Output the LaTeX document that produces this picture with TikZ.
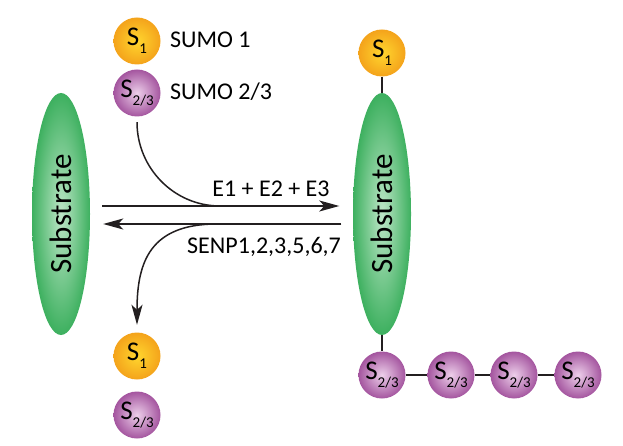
\documentclass[tikz,border=0pt]{standalone}
\usepackage{fontspec}
\setmainfont{Carlito}
\usetikzlibrary{arrows.meta,positioning,shapes.geometric}
\definecolor{sumoyel}{HTML}{FFD62E}
\definecolor{sumoorg}{HTML}{F4A31B}
\definecolor{sumolil}{HTML}{EDCFEA}
\definecolor{sumopur}{HTML}{A4559F}
\definecolor{subpale}{HTML}{BDE6C7}
\definecolor{subgreen}{HTML}{3DB05F}
\definecolor{linkgray}{HTML}{231F20}
\newcommand{\sumolbl}[1]{S\raisebox{-0.3em}{\fontsize{15}{15}\selectfont #1}}

\begin{document}
\begin{tikzpicture}[
    x=1pt, y=-1pt,
    font=\fontsize{24}{26}\selectfont,
    sone/.style={circle, minimum size=47pt, inner sep=0pt, inner color=sumoyel, outer color=sumoorg, font=\fontsize{27}{27}\selectfont},
    stwo/.style={circle, minimum size=47pt, inner sep=0pt, inner color=sumolil, outer color=sumopur, font=\fontsize{27}{27}\selectfont},
    substrate/.style={ellipse, minimum width=58pt, minimum height=242pt, inner sep=0pt, inner color=subpale, outer color=subgreen, font=\fontsize{31}{31}\selectfont},
    key/.style={anchor=base west, inner sep=0pt},
    enzyme/.style={anchor=base, inner sep=0pt},
    arrow/.style={-{Stealth[length=20pt, width=11pt, inset=5pt]}, line width=1.5pt, linkgray},
    curve/.style={line width=1.5pt, linkgray},
    link/.style={line width=2pt, linkgray}
]
\useasboundingbox (0,0) rectangle (623,446);

% legend
\node[sone] (keyone) at (137,41) {\sumolbl{1}};
\node[key] (keyonetxt) at (170,48) {SUMO 1};
\node[stwo] (keytwo) at (137,93) {\sumolbl{2/3}};
\node[key] (keytwotxt) at (170,100) {SUMO 2/3};

% free and modified substrate
\node[substrate] (free) at (61,214) {\rotatebox{90}{Substrate}};
\node[substrate] (conj) at (382,214) {\rotatebox{90}{Substrate}};

\node[sone] (topone) at (382,53) {\sumolbl{1}};
\node[stwo] (chaina) at (382,375) {\sumolbl{2/3}};
\node[stwo] (chainb) at (451,375) {\sumolbl{2/3}};
\node[stwo] (chainc) at (514,375) {\sumolbl{2/3}};
\node[stwo] (chaind) at (578,375) {\sumolbl{2/3}};

\draw[link] (topone) -- (conj);
\draw[link] (conj) -- (chaina);
\draw[link] (chaina) -- (chainb);
\draw[link] (chainb) -- (chainc);
\draw[link] (chainc) -- (chaind);

% released SUMO
\node[sone] (relone) at (137,356) {\sumolbl{1}};
\node[stwo] (reltwo) at (137,415) {\sumolbl{2/3}};

% conjugation / deconjugation
\draw[arrow, shorten <=12pt, shorten >=13.5pt] ([yshift=8pt]free.east) -- ([yshift=8pt]conj.west);
\draw[arrow, shorten <=11.5pt, shorten >=13pt] ([yshift=-10pt]conj.west) -- ([yshift=-10pt]free.east);
\node[enzyme] (ligases) at (271,197) {E1 + E2 + E3};
\node[enzyme] (senps) at (264,253) {SENP1,2,3,5,6,7};

\coordinate (fwjoin) at (220,206);
\coordinate (bkjoin) at (217,224);
\draw[curve, shorten <=5.5pt] (keytwo.south) .. controls (137,168) and (174,206) .. (fwjoin);
\draw[curve, arrow, shorten >=7.5pt] (bkjoin) .. controls (150,224) and (137,262) .. (relone.north);

\end{tikzpicture}
\end{document}
